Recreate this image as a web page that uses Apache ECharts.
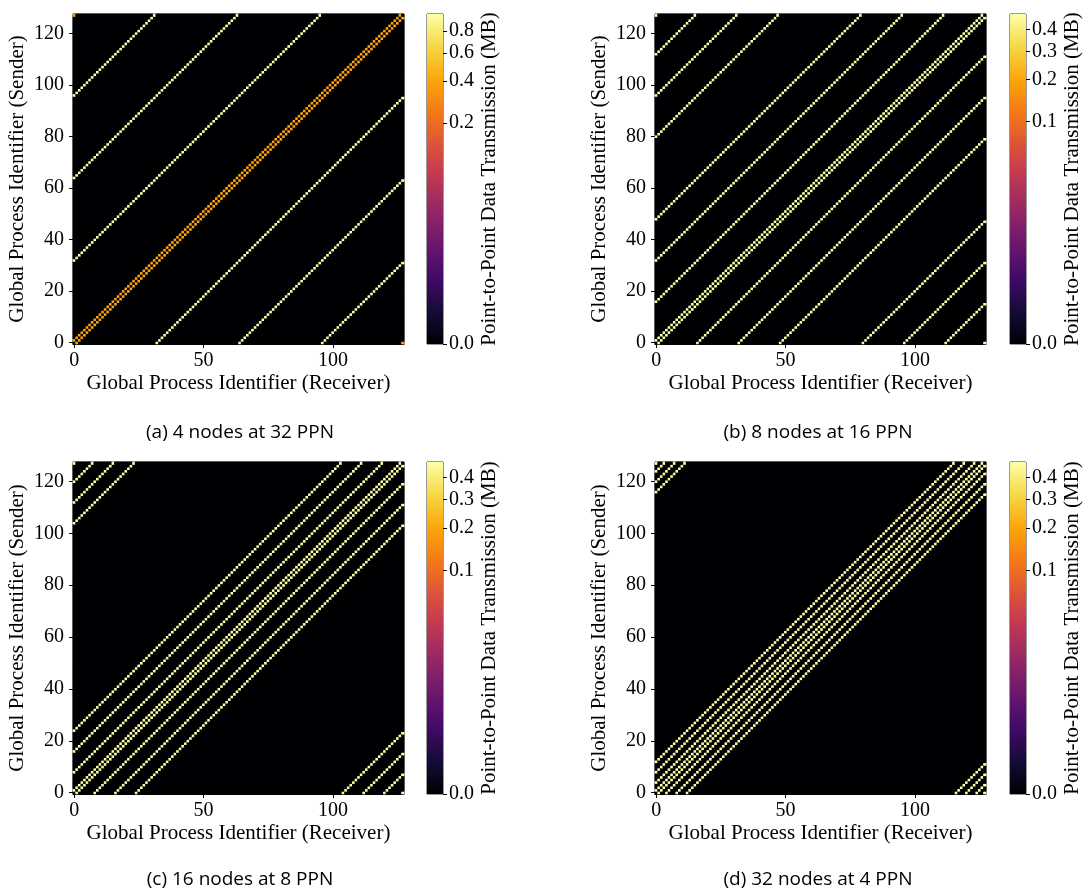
<!DOCTYPE html>
<html>
<head>
<meta charset="utf-8">
<script src="https://cdn.jsdelivr.net/npm/echarts@6/dist/echarts.min.js"></script>
<style>
  html, body { margin: 0; padding: 0; background: #fff; }
  #main { width: 1087px; height: 894px; }
</style>
</head>
<body>
<div id="main"></div>
<script>
// 128 global processes: receiver on x, sender on y
const nProcs = 128;
const procIds = Array.from({ length: nProcs }, (_, i) => i);

// ring distance (sender - receiver mod 128) that carries data, and the MB sent on it
const offsetsA = [1, 127, 32, 64, 96];
const valuesA = [0.41, 0.41, 0.99, 0.99, 0.99];
const offsetsB = [1, 127, 16, 32, 48, 80, 96, 112];
const valuesB = [0.485, 0.485, 0.485, 0.485, 0.485, 0.485, 0.485, 0.485];
const offsetsC = [1, 127, 8, 16, 24, 104, 112, 120];
const valuesC = [0.485, 0.485, 0.485, 0.485, 0.485, 0.485, 0.485, 0.485];
const offsetsD = [1, 127, 4, 8, 12, 116, 120, 124];
const valuesD = [0.485, 0.485, 0.485, 0.485, 0.485, 0.485, 0.485, 0.485];

// colorbar tick labels
const cbTicksA = [0.0, 0.2, 0.4, 0.6, 0.8];
const cbTicksB = [0.0, 0.1, 0.2, 0.3, 0.4];

const captions = ['(a) 4 nodes at 32 PPN', '(b) 8 nodes at 16 PPN', '(c) 16 nodes at 8 PPN', '(d) 32 nodes at 4 PPN'];

const gamma = 0.25; // power norm of the colour scale
const inferno = ['#000004', '#160b39', '#420a68', '#6a176e', '#932667', '#bc3754',
  '#dd513a', '#f37819', '#fca50a', '#f6d746', '#fcffa4'];

const serif = '"Liberation Serif", "DejaVu Serif", serif';
const fs = 20;      // tick labels
const nameFs = 21;  // axis titles

// panel layout: heatmap box and colorbar box
const panels = [
  { offsets: offsetsA, values: valuesA, ticks: cbTicksA, left: 73, top: 14, w: 331, h: 330, cbLeft: 427, cap: [240, 433] },
  { offsets: offsetsB, values: valuesB, ticks: cbTicksB, left: 655, top: 14, w: 331, h: 330, cbLeft: 1010, cap: [818, 433] },
  { offsets: offsetsC, values: valuesC, ticks: cbTicksB, left: 73, top: 462, w: 331, h: 332, cbLeft: 427, cap: [240, 880] },
  { offsets: offsetsD, values: valuesD, ticks: cbTicksB, left: 655, top: 462, w: 331, h: 332, cbLeft: 1010, cap: [818, 880] }
];

function buildCells(offsets, values, vmax) {
  const cells = [];
  for (let s = 0; s < nProcs; s++) {
    for (let r = 0; r < nProcs; r++) {
      const d = ((s - r) % nProcs + nProcs) % nProcs;
      const k = offsets.indexOf(d);
      const v = k < 0 ? 0 : values[k];
      cells.push([r, s, Math.pow(v / vmax, gamma)]);
    }
  }
  return cells;
}

const grid = [], xAxis = [], yAxis = [], series = [], visualMap = [], graphic = [];

panels.forEach((p, i) => {
  const vmax = Math.max(...p.values);
  // heatmap grid
  grid.push({ left: p.left, top: p.top, width: p.w, height: p.h, show: true,
    backgroundColor: '#000004', borderColor: '#000', borderWidth: 1 });
  xAxis.push({
    type: 'category', gridIndex: 2 * i, data: procIds, boundaryGap: true,
    name: 'Global Process Identifier (Receiver)', nameLocation: 'middle', nameGap: 29,
    nameTextStyle: { fontFamily: serif, fontSize: nameFs, color: '#000' },
    axisLine: { show: true, onZero: false, lineStyle: { color: '#000', width: 1 } },
    axisTick: { show: true, alignWithLabel: true, interval: (idx) => idx % 50 === 0, length: 4, lineStyle: { color: '#000' } },
    axisLabel: { interval: (idx) => idx % 50 === 0, margin: 7, fontFamily: serif, fontSize: fs, color: '#000' },
    splitLine: { show: false }
  });
  yAxis.push({
    type: 'category', gridIndex: 2 * i, data: procIds, boundaryGap: true,
    name: 'Global Process Identifier (Sender)', nameLocation: 'middle', nameGap: 45, nameRotate: 90,
    nameTextStyle: { fontFamily: serif, fontSize: nameFs, color: '#000' },
    axisLine: { show: true, onZero: false, lineStyle: { color: '#000', width: 1 } },
    axisTick: { show: true, alignWithLabel: true, interval: (idx) => idx % 20 === 0, length: 4, lineStyle: { color: '#000' } },
    axisLabel: { interval: (idx) => idx % 20 === 0, margin: 9, fontFamily: serif, fontSize: fs, color: '#000' },
    splitLine: { show: false }
  });
  series.push({
    type: 'heatmap', xAxisIndex: 2 * i, yAxisIndex: 2 * i,
    data: buildCells(p.offsets, p.values, vmax),
    progressive: 0, emphasis: { disabled: true }, silent: true
  });
  visualMap.push({
    type: 'continuous', show: false, seriesIndex: 2 * i, dimension: 2,
    min: 0, max: 1, inRange: { color: inferno }
  });

  // colorbar grid
  grid.push({ left: p.cbLeft, top: p.top, width: 16, height: p.h, show: true,
    backgroundColor: 'transparent', borderColor: '#000', borderWidth: 0.8 });
  xAxis.push({ type: 'category', gridIndex: 2 * i + 1, data: [''], show: false });
  const normTicks = p.ticks.map(t => Math.pow(t / vmax, gamma));
  yAxis.push({
    type: 'value', gridIndex: 2 * i + 1, min: 0, max: 1, position: 'right',
    name: 'Point-to-Point Data Transmission (MB)', nameLocation: 'middle', nameGap: 36, nameRotate: 90,
    nameTextStyle: { fontFamily: serif, fontSize: nameFs, color: '#000' },
    axisLine: { show: false },
    axisTick: { show: true, customValues: normTicks, length: 4, lineStyle: { color: '#000' } },
    axisLabel: { customValues: normTicks, margin: 6, fontFamily: serif, fontSize: fs, color: '#000',
      formatter: (v) => (vmax * Math.pow(v, 1 / gamma)).toFixed(1) },
    splitLine: { show: false }
  });
  series.push({
    type: 'bar', xAxisIndex: 2 * i + 1, yAxisIndex: 2 * i + 1, data: [1], barWidth: '100%', silent: true,
    itemStyle: {
      color: new echarts.graphic.LinearGradient(0, 1, 0, 0,
        inferno.map((c, k) => ({ offset: k / (inferno.length - 1), color: c })))
    }
  });

  graphic.push({
    type: 'text', x: p.cap[0], y: p.cap[1], silent: true,
    style: { text: captions[i], fill: '#000', font: '19px "Open Sans"', align: 'center', verticalAlign: 'middle' }
  });
});

const myChart = echarts.init(document.getElementById('main'));
myChart.setOption({
  animation: false,
  backgroundColor: '#fff',
  grid: grid,
  xAxis: xAxis,
  yAxis: yAxis,
  visualMap: visualMap,
  series: series,
  graphic: graphic
});
</script>
</body>
</html>
